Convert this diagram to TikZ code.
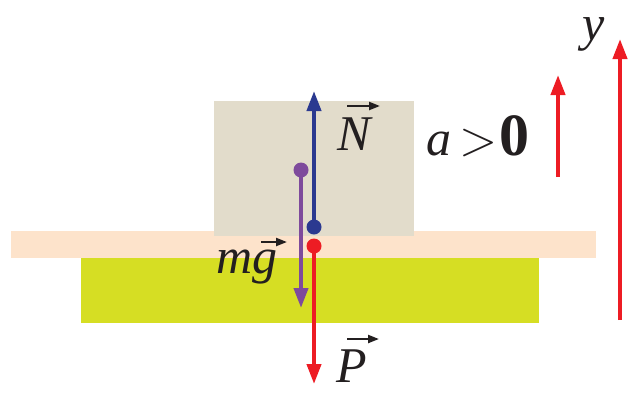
\documentclass[tikz,border=0pt]{standalone}
\usepackage{fix-cm}
\usepackage{fontspec}
\setmainfont{Liberation Serif}
\usetikzlibrary{arrows.meta}
\definecolor{blockc}{HTML}{E2DCCB}
\definecolor{stripc}{HTML}{FDE3CB}
\definecolor{slabc}{HTML}{D6DE23}
\definecolor{bluec}{HTML}{2B3990}
\definecolor{purc}{HTML}{7E4A9C}
\definecolor{redc}{HTML}{ED1C24}
\definecolor{inkc}{HTML}{231F20}
\tikzset{
  force/.style={line width=4pt,-{Triangle[width=14pt,length=20pt]}},
  vecarr/.style={line width=2.2pt,inkc,-{Triangle[width=8pt,length=11pt]}},
  lbl/.style={inner sep=0pt,anchor=base west,text=inkc,font=\fontsize{50}{56}\selectfont\itshape},
}
\begin{document}
\begin{tikzpicture}[x=1pt,y=-1pt]
\useasboundingbox (0,0) rectangle (644,400);
% table
\fill[stripc] (11,231) rectangle (596,258);
\fill[slabc] (81,258) rectangle (539,323);
% block
\fill[blockc] (214,101) rectangle (414,236);
% points
\coordinate (nS) at (314,227);
\coordinate (nE) at (314,91);
\coordinate (gS) at (301,170);
\coordinate (gE) at (301,308);
\coordinate (pS) at (314,246);
\coordinate (pE) at (314,384);
\draw[force,bluec] (nS) -- (nE);
\draw[force,purc] (gS) -- (gE);
\draw[force,redc] (pS) -- (pE);
\fill[bluec] (nS) circle (7.5);
\fill[purc] (gS) circle (7.5);
\fill[redc] (pS) circle (7.5);
% labels
\node[lbl] (N) at (337,150) {N};
\node[lbl] (mg) at (216,273) {mg};
\node[lbl] (P) at (336,382) {P};
\node[lbl] (acc) at (426,155) {a\,$>$\kern2pt\textbf{\upshape\fontsize{60}{64}\selectfont 0}};
\node[lbl] (y) at (582,40) {y};
% vector arrows over labels
\coordinate (nA) at (347,106);
\coordinate (nB) at (380,106);
\coordinate (gA) at (261,242);
\coordinate (gB) at (287,242);
\coordinate (pA) at (347,339);
\coordinate (pB) at (379,339);
\draw[vecarr] (nA) -- (nB);
\draw[vecarr] (gA) -- (gB);
\draw[vecarr] (pA) -- (pB);
% right arrows
\coordinate (aS) at (558,177);
\coordinate (aE) at (558,75);
\coordinate (yS) at (620,320);
\coordinate (yE) at (620,39);
\draw[force,redc] (aS) -- (aE);
\draw[force,redc] (yS) -- (yE);
\end{tikzpicture}
\end{document}
